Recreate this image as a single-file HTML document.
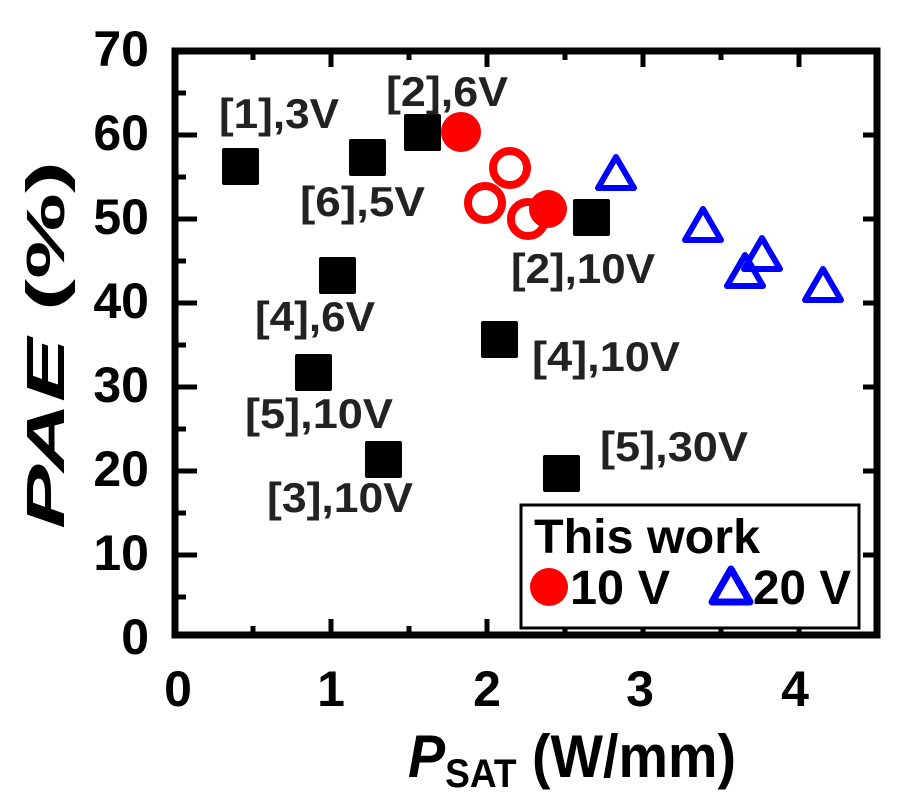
<!DOCTYPE html>
<html><head><meta charset="utf-8"><style>
html,body{margin:0;padding:0;background:#fff;}
svg{display:block;}
text{font-family:"Liberation Sans",Arial,sans-serif;font-weight:bold;}
</style></head><body>
<svg width="900" height="797" viewBox="0 0 900 797" xmlns="http://www.w3.org/2000/svg">
<rect x="175" y="51" width="702" height="584" fill="none" stroke="#000" stroke-width="7"/>
<g stroke="#000" stroke-width="5">
<line x1="331" y1="635" x2="331" y2="619"/><line x1="487" y1="635" x2="487" y2="619"/><line x1="643" y1="635" x2="643" y2="619"/><line x1="799" y1="635" x2="799" y2="619"/>
<line x1="253" y1="635" x2="253" y2="626"/><line x1="409" y1="635" x2="409" y2="626"/><line x1="565" y1="635" x2="565" y2="626"/><line x1="721" y1="635" x2="721" y2="626"/>
<line x1="331" y1="51" x2="331" y2="67"/><line x1="487" y1="51" x2="487" y2="67"/><line x1="643" y1="51" x2="643" y2="67"/><line x1="799" y1="51" x2="799" y2="67"/>
<line x1="253" y1="51" x2="253" y2="60"/><line x1="409" y1="51" x2="409" y2="60"/><line x1="565" y1="51" x2="565" y2="60"/><line x1="721" y1="51" x2="721" y2="60"/>
<line x1="175" y1="135" x2="197" y2="135"/><line x1="175" y1="219" x2="197" y2="219"/><line x1="175" y1="303" x2="197" y2="303"/><line x1="175" y1="387" x2="197" y2="387"/><line x1="175" y1="471" x2="197" y2="471"/><line x1="175" y1="555" x2="197" y2="555"/>
<line x1="175" y1="93" x2="186" y2="93"/><line x1="175" y1="177" x2="186" y2="177"/><line x1="175" y1="261" x2="186" y2="261"/><line x1="175" y1="345" x2="186" y2="345"/><line x1="175" y1="429" x2="186" y2="429"/><line x1="175" y1="513" x2="186" y2="513"/><line x1="175" y1="597" x2="186" y2="597"/>
<line x1="877" y1="135" x2="863" y2="135"/><line x1="877" y1="219" x2="863" y2="219"/><line x1="877" y1="303" x2="863" y2="303"/><line x1="877" y1="387" x2="863" y2="387"/><line x1="877" y1="471" x2="863" y2="471"/><line x1="877" y1="555" x2="863" y2="555"/>
</g>
<g font-size="50" text-anchor="end">
<text x="149" y="66">70</text><text x="149" y="150">60</text><text x="149" y="234">50</text><text x="149" y="318">40</text><text x="149" y="402">30</text><text x="149" y="486">20</text><text x="149" y="570">10</text><text x="149" y="654">0</text>
</g>
<g font-size="50" text-anchor="middle">
<text x="178" y="706">0</text><text x="331" y="706">1</text><text x="487" y="706">2</text><text x="640" y="706">3</text><text x="795" y="706">4</text>
</g>
<text x="0" y="0" font-size="54" textLength="368" lengthAdjust="spacingAndGlyphs" text-anchor="middle" transform="translate(64,345) rotate(-90)"><tspan font-style="italic">PAE</tspan> (%)</text>
<text x="408" y="777" font-size="60" textLength="328" lengthAdjust="spacingAndGlyphs"><tspan font-style="italic">P</tspan><tspan font-size="40" dy="10">SAT</tspan><tspan dy="-10"> (W/mm)</tspan></text>
<g fill="#000">
<rect x="222" y="148" width="37" height="37" rx="2"/>
<rect x="349" y="139" width="37" height="37" rx="2"/>
<rect x="404" y="114" width="37" height="37" rx="2"/>
<rect x="319" y="257" width="37" height="37" rx="2"/>
<rect x="295" y="354" width="37" height="37" rx="2"/>
<rect x="365" y="441" width="37" height="37" rx="2"/>
<rect x="481" y="321" width="37" height="37" rx="2"/>
<rect x="543" y="455" width="37" height="37" rx="2"/>
<rect x="573" y="199" width="37" height="37" rx="2"/>
</g>
<g font-size="42" fill="#222">
<text x="219" y="128" textLength="120" lengthAdjust="spacingAndGlyphs">[1],3V</text>
<text x="386" y="106" textLength="122" lengthAdjust="spacingAndGlyphs">[2],6V</text>
<text x="300" y="216" textLength="125" lengthAdjust="spacingAndGlyphs">[6],5V</text>
<text x="511" y="283" textLength="144" lengthAdjust="spacingAndGlyphs">[2],10V</text>
<text x="255" y="331" textLength="120" lengthAdjust="spacingAndGlyphs">[4],6V</text>
<text x="532" y="371" textLength="148" lengthAdjust="spacingAndGlyphs">[4],10V</text>
<text x="245" y="428" textLength="148" lengthAdjust="spacingAndGlyphs">[5],10V</text>
<text x="600" y="461" textLength="148" lengthAdjust="spacingAndGlyphs">[5],30V</text>
<text x="267" y="512" textLength="146" lengthAdjust="spacingAndGlyphs">[3],10V</text>
</g>
<circle cx="461" cy="132" r="20" fill="#f00"/>
<g fill="none" stroke="#f00" stroke-width="8">
<circle cx="510" cy="168" r="17"/>
<circle cx="485" cy="203" r="17"/>
<circle cx="528" cy="219" r="17"/>
</g>
<circle cx="548" cy="209" r="19" fill="#f00"/>
<g fill="none" stroke="#00f" stroke-width="6" stroke-linejoin="round">
<polygon points="616,157 598,188 634,188"/>
<polygon points="703,209 685,240 721,240"/>
<polygon points="762,238 744,269 780,269"/>
<polygon points="745,255 727,286 763,286"/>
<polygon points="823,269 805,300 841,300"/>
</g>
<rect x="521" y="505" width="338" height="123" fill="#fff" stroke="#000" stroke-width="3"/>
<text x="534" y="553" font-size="48" textLength="226" lengthAdjust="spacingAndGlyphs">This work</text>
<circle cx="549" cy="587" r="19" fill="#f00"/>
<text x="570" y="604" font-size="48" textLength="100" lengthAdjust="spacingAndGlyphs">10 V</text>
<polygon points="731,569 712,602 750,602" fill="none" stroke="#00f" stroke-width="7" stroke-linejoin="round"/>
<text x="753" y="604" font-size="48" textLength="98" lengthAdjust="spacingAndGlyphs">20 V</text>
</svg>
</body></html>
